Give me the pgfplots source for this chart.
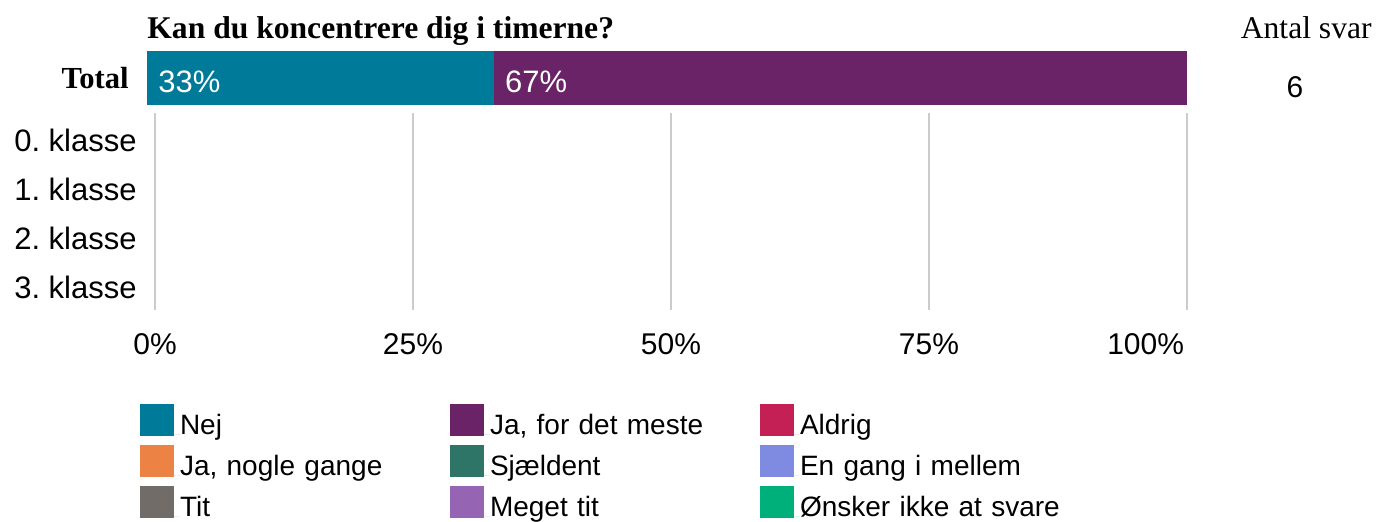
\documentclass[border=0pt]{standalone}
\usepackage{fontspec}
\setmainfont{Liberation Serif}
\setsansfont{Liberation Sans}
\usepackage{pgfplots}
\pgfplotsset{compat=1.18}
\frenchspacing

\definecolor{cNej}{RGB}{0,122,153}
\definecolor{cJaMeste}{RGB}{106,35,102}
\definecolor{cAldrig}{RGB}{196,32,85}
\definecolor{cJaNogle}{RGB}{236,130,68}
\definecolor{cSjaeldent}{RGB}{46,117,104}
\definecolor{cEnGang}{RGB}{127,139,224}
\definecolor{cTit}{RGB}{114,108,104}
\definecolor{cMeget}{RGB}{149,101,179}
\definecolor{cOnsker}{RGB}{0,176,122}
\definecolor{gridc}{RGB}{204,204,204}

\pgfplotsset{legsq/.style={legend image code/.code={\fill[##1] (0pt,-1pt) rectangle (17pt,15pt); \path (0pt,0pt) -- (20pt,0pt);}}}

\begin{document}
\frenchspacing
\begin{tikzpicture}
\useasboundingbox (0,0) rectangle (695.5pt,-260.5pt);

% title and header
\node[anchor=base west, inner sep=0pt, font=\bfseries\fontsize{15.8}{18}\selectfont] at (73.5pt,-19pt) {Kan du koncentrere dig i timerne?};
\node[anchor=base east, inner sep=0pt, font=\fontsize{15.8}{18}\selectfont] at (686pt,-19pt) {Antal svar};
\node[anchor=center, inner sep=0pt, font=\sffamily\fontsize{15}{17}\selectfont] at (647.5pt,-43.5pt) {6};

% grid axis with class categories
\begin{axis}[
  at={(77.5pt,-155pt)}, anchor=south west,
  scale only axis, width=516pt, height=98.5pt,
  xmin=0, xmax=100, ymin=-0.55, ymax=3.45, y dir=reverse,
  enlargelimits=false, clip=false,
  axis line style={draw=none}, tick style={draw=none}, major tick length=0pt,
  xtick={0,25,50,75,100},
  xticklabels={0\%,25\%,50\%,75\%,\makebox[0pt][r]{100\%\hspace{1.5pt}}},
  ytick={0,1,2,3},
  yticklabels={0. klasse,1. klasse,2. klasse,3. klasse},
  xmajorgrids=true,
  major grid style={draw=gridc, line width=0.75pt},
  xticklabel style={font=\sffamily\fontsize{15}{18}\selectfont, anchor=center, inner sep=0pt, yshift=-17.25pt},
  yticklabel style={font=\sffamily\fontsize{15.5}{18}\selectfont, anchor=east, inner sep=0pt, xshift=-9pt},
]
\addplot[draw=none, forget plot] coordinates {(0,0) (100,3)};
\end{axis}

% total bar axis
\begin{axis}[
  at={(73.5pt,-52.5pt)}, anchor=south west,
  scale only axis, width=520pt, height=27pt,
  xmin=0, xmax=100, ymin=-0.5, ymax=0.5,
  enlargelimits=false, clip=false,
  xbar stacked, bar width=27pt,
  axis line style={draw=none}, tick style={draw=none}, major tick length=0pt,
  xtick=\empty,
  ytick={0}, yticklabels={Total},
  yticklabel style={font=\bfseries\fontsize{15.3}{18}\selectfont, anchor=east, inner sep=0pt, xshift=-9pt},
  legend columns=3,
  legend style={at={(-0.00673,-5.537)}, anchor=north west, draw=none, fill=none,
    inner sep=0pt, outer sep=0pt, row sep=1.5pt, column sep=0pt,
    nodes={anchor=base west, inner sep=0pt, text height=10pt, text depth=4pt, text width=135pt, align=left,
      font=\sffamily\fontsize{14}{16}\selectfont}},
]
\addplot[fill=cNej, draw=none, legsq] coordinates {(33.33,0)};
\addlegendentry{Nej}
\addplot[fill=cJaMeste, draw=none, legsq] coordinates {(66.67,0)};
\addlegendentry{Ja, for det meste}
\addplot[fill=cAldrig, draw=none, legsq] coordinates {(0,0)};
\addlegendentry{Aldrig}
\addplot[fill=cJaNogle, draw=none, legsq] coordinates {(0,0)};
\addlegendentry{Ja, nogle gange}
\addplot[fill=cSjaeldent, draw=none, legsq] coordinates {(0,0)};
\addlegendentry{Sjældent}
\addplot[fill=cEnGang, draw=none, legsq] coordinates {(0,0)};
\addlegendentry{En gang i mellem}
\addplot[fill=cTit, draw=none, legsq] coordinates {(0,0)};
\addlegendentry{Tit}
\addplot[fill=cMeget, draw=none, legsq] coordinates {(0,0)};
\addlegendentry{Meget tit}
\addplot[fill=cOnsker, draw=none, legsq] coordinates {(0,0)};
\addlegendentry{Ønsker ikke at svare}

\coordinate (labA) at (axis cs:0,0);
\coordinate (labB) at (axis cs:33.33,0);
\end{axis}

\node[anchor=base west, inner sep=0pt, text=white, font=\sffamily\fontsize{15.5}{18}\selectfont] at ([xshift=5.5pt, yshift=-7pt]labA) {33\%};
\node[anchor=base west, inner sep=0pt, text=white, font=\sffamily\fontsize{15.5}{18}\selectfont] at ([xshift=5.5pt, yshift=-7pt]labB) {67\%};
\end{tikzpicture}
\end{document}
